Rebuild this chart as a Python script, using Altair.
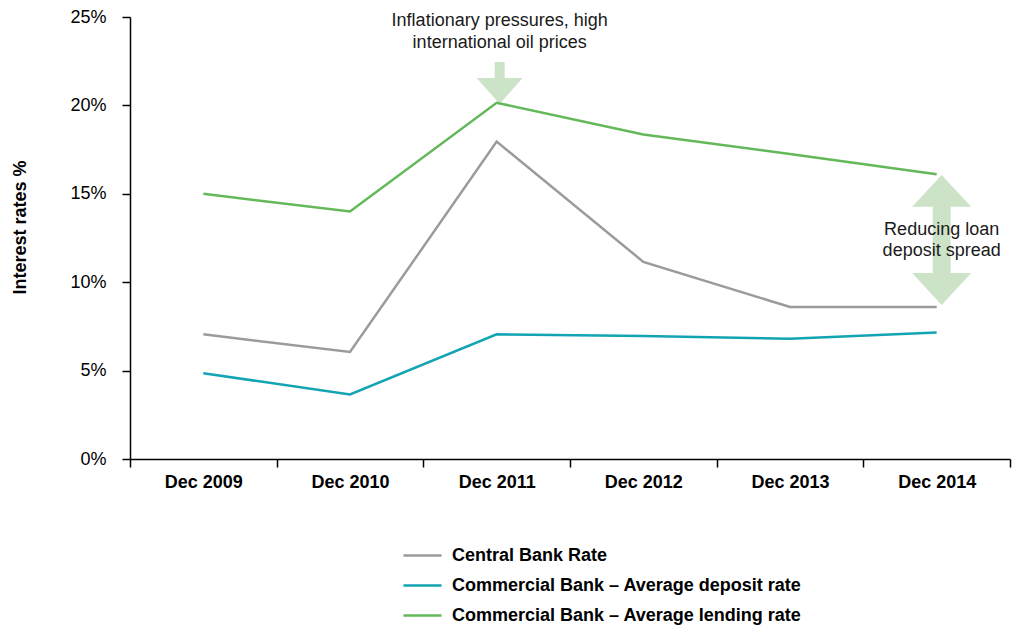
import altair as alt
import pandas as pd

dates = ["Dec 2009", "Dec 2010", "Dec 2011", "Dec 2012", "Dec 2013", "Dec 2014"]
series = ["Central Bank Rate",
          "Commercial Bank – Average deposit rate",
          "Commercial Bank – Average lending rate"]
central = [7.05, 6.05, 17.95, 11.15, 8.6, 8.6]
deposit = [4.85, 3.65, 7.05, 6.95, 6.8, 7.15]
lending = [15.0, 14.0, 20.15, 18.35, 17.25, 16.1]
colors = ["#9b9b9b", "#12a4b2", "#63b85a"]

FONT = "Liberation Sans"

rows = []
for name, vals in zip(series, [central, deposit, lending]):
    for d, v in zip(dates, vals):
        rows.append({"date": d, "series": name, "value": v})
df = pd.DataFrame(rows)

note1 = pd.DataFrame({"date": ["Dec 2011"], "value": [24.8],
                      "text": [["Inflationary pressures, high", "international oil prices"]]})
note2 = pd.DataFrame({"date": ["Dec 2014"], "value": [12.95],
                      "text": [["Reducing loan", "deposit spread"]]})
arrow1 = pd.DataFrame({"date": ["Dec 2011"], "value": [21.27]})
arrow2 = pd.DataFrame({"date": ["Dec 2014"], "value": [12.39]})

xenc = alt.X("date:N", sort=dates,
             scale=alt.Scale(domain=dates, paddingInner=0, paddingOuter=0),
             axis=alt.Axis(title=None, labelAngle=0, tickBand="extent",
                           labelAlign="center",
                           labelFontWeight="bold", labelFontSize=18,
                           labelPadding=15, tickSize=8, labelFont=FONT,
                           domainColor="black", tickColor="black",
                           domainWidth=1.5, tickWidth=1.5, labelColor="black"))
yscale = alt.Scale(domain=[0, 25])
xs = alt.X("date:N", sort=dates)
ys = alt.Y("value:Q", scale=yscale)

lines = alt.Chart(df).mark_line(strokeWidth=2.5).encode(
    x=xenc,
    y=alt.Y("value:Q", scale=yscale,
            axis=alt.Axis(title="Interest rates %", values=[0, 5, 10, 15, 20, 25],
                          labelExpr="datum.value + '%'", grid=False,
                          tickSize=8, labelPadding=16, labelFontSize=18,
                          labelFont=FONT, titleFont=FONT, titleFontSize=18,
                          titleFontWeight="bold", titleX=-110, titleY=210,
                          titleAlign="center", titleBaseline="middle",
                          domainColor="black", tickColor="black",
                          domainWidth=1.5, tickWidth=1.5, labelColor="black",
                          titleColor="black")),
    color=alt.Color("series:N", sort=series,
                    scale=alt.Scale(domain=series, range=colors),
                    legend=alt.Legend(title=None, orient="none", legendX=276,
                                      legendY=522, direction="vertical",
                                      symbolType="M -1.27 0 L 1.27 0",
                                      symbolSize=900,
                                      symbolStrokeWidth=2.5, labelFontSize=18,
                                      labelFontWeight="bold", labelFont=FONT,
                                      labelOffset=13, rowPadding=4, padding=0,
                                      labelLimit=0, labelColor="black")),
)

down_path = ("M -0.217 -0.913 L 0.217 -0.913 L 0.217 -0.217 L 1 -0.217 "
             "L 0 0.913 L -1 -0.217 L -0.217 -0.217 Z")
double_path = ("M 0 -1 L 0.454 -0.51 L 0.138 -0.51 L 0.138 0.51 L 0.454 0.51 "
               "L 0 1 L -0.454 0.51 L -0.138 0.51 L -0.138 -0.51 L -0.454 -0.51 Z")

arrow_color = "#cce3c8"
down_arrow = alt.Chart(arrow1).mark_point(
    shape=down_path, size=46 * 46, filled=True, opacity=1, color=arrow_color,
    strokeWidth=0, xOffset=3).encode(x=xs, y=ys)
double_arrow = alt.Chart(arrow2).mark_point(
    shape=double_path, size=130 * 130, filled=True, opacity=1, color=arrow_color,
    strokeWidth=0, xOffset=5).encode(x=xs, y=ys)

text1 = alt.Chart(note1).mark_text(fontSize=18, font=FONT, color="#1a1a1a",
                                   lineHeight=22, baseline="middle",
                                   align="center", xOffset=3).encode(
    x=xs, y=ys, text="text:N")
text2 = alt.Chart(note2).mark_text(fontSize=18, font=FONT, color="#1a1a1a",
                                   lineHeight=21, baseline="middle",
                                   align="center", xOffset=5).encode(
    x=xs, y=ys, text="text:N")

chart = alt.layer(down_arrow, double_arrow, lines, text1, text2).properties(
    width=880, height=442,
    padding={"left": 130, "top": 17, "right": 16, "bottom": 168},
    autosize=alt.AutoSizeParams(type="none"),
).configure_view(stroke=None)

chart.save("out.html", embed_options={"renderer": "svg", "actions": False})
